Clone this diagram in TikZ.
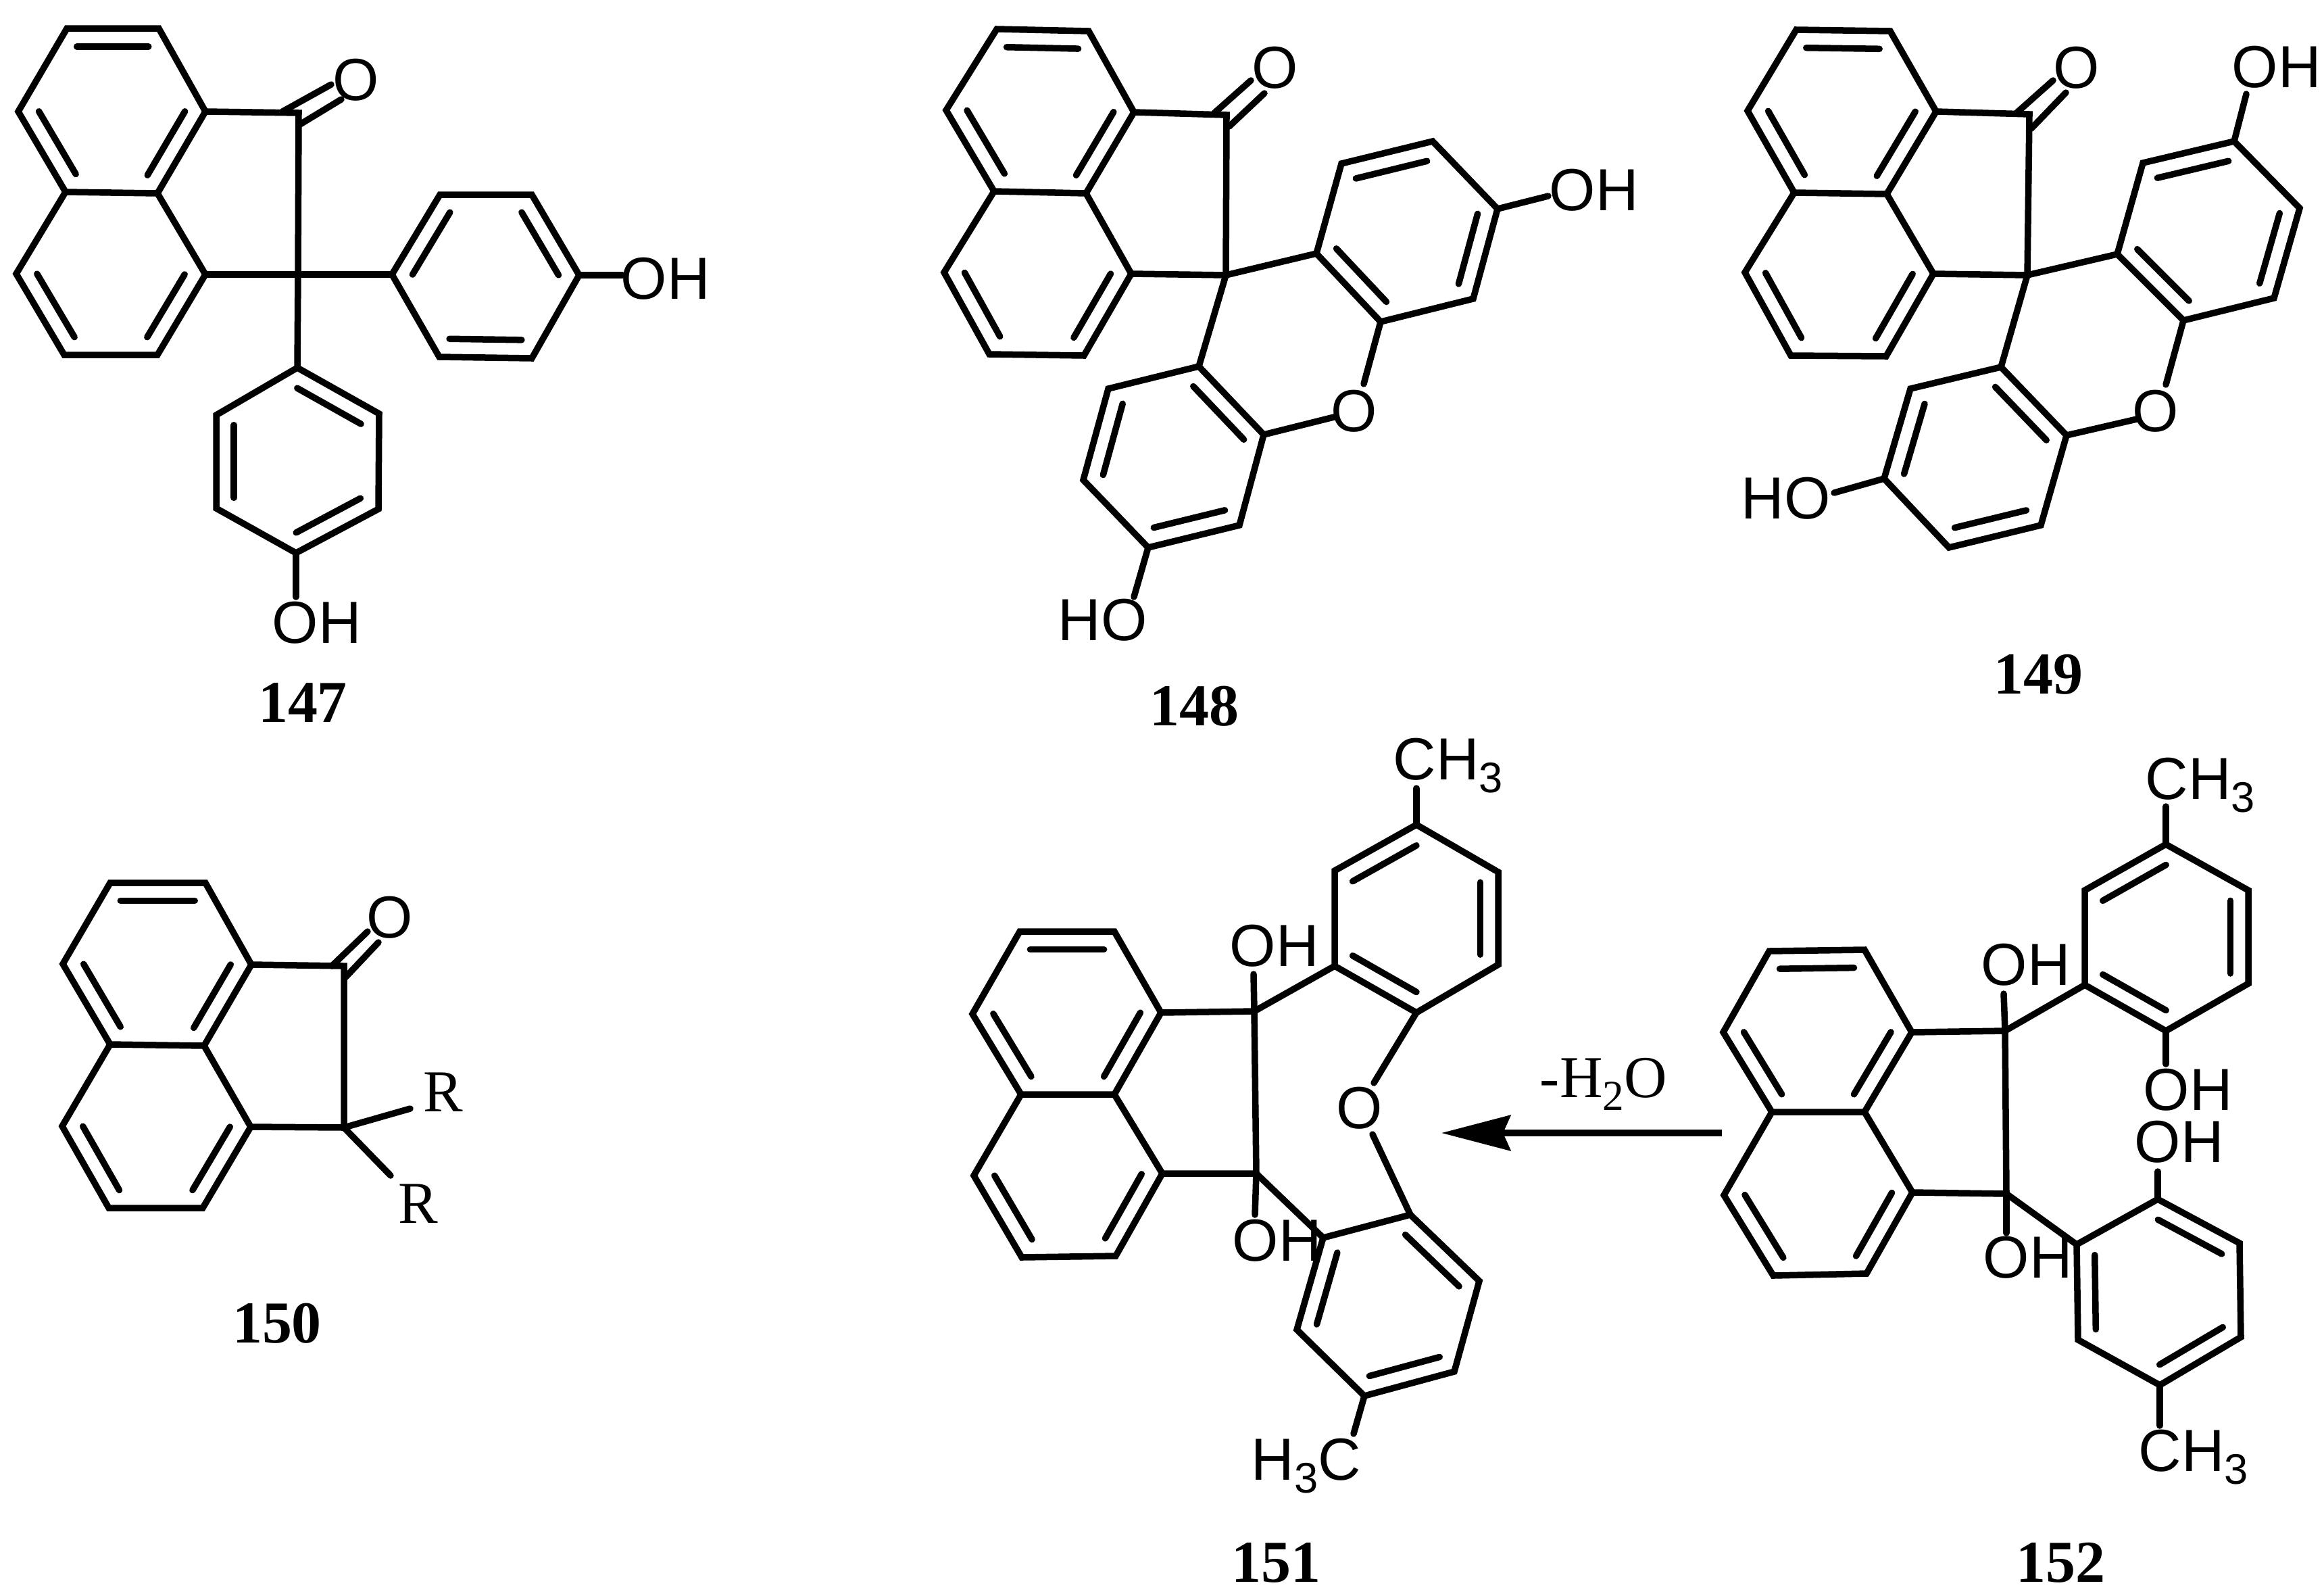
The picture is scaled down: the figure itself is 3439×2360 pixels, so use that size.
\documentclass[tikz,border=0pt]{standalone}
\usepackage{fontspec}
\setmainfont{Liberation Serif}
\newfontfamily\atomfont{Liberation Sans}
\usetikzlibrary{calc,arrows.meta}

\tikzset{
    bond/.style={line width=0.095cm, line cap=round, black},
    atomlab/.style={inner sep=0pt, anchor=base west, font=\atomfont\fontsize{25}{28}\selectfont},
    oxlab/.style={inner sep=0pt, font=\atomfont\fontsize{25}{28}\selectfont},
    rlab/.style={inner sep=0pt, font=\fontsize{25}{28}\selectfont},
    numlab/.style={inner sep=0pt, font=\bfseries\fontsize{25}{28}\selectfont},
    condlab/.style={inner sep=0pt, anchor=base west, font=\fontsize{25}{28}\selectfont}
}

\newcommand{\subnum}[1]{\raisebox{-0.22em}{\fontsize{18}{18}\selectfont #1}}
\newcommand{\atoms}[2]{\foreach \n/\x/\y in {#2} \coordinate (#1\n) at (\x,\y);}
\newcommand{\dbl}[3]{\draw[bond] ($(#1)!.22!(#3)$) -- ($(#2)!.22!(#3)$);}
\newcommand{\naphcore}[1]{
    \coordinate (#1cu) at ($(#1a1)!.5!(#1a4)$);
    \coordinate (#1cl) at ($(#1a4)!.5!(#1a9)$);
    \draw[bond] (#1a1) -- (#1a2) -- (#1a3) -- (#1a4) -- (#1a5) -- (#1a6) -- cycle;
    \draw[bond] (#1a4) -- (#1a7) -- (#1a8) -- (#1a9) -- (#1a10) -- (#1a5);
    \dbl{#1a1}{#1a2}{#1cu}
    \dbl{#1a3}{#1a4}{#1cu}
    \dbl{#1a5}{#1a6}{#1cu}
    \dbl{#1a7}{#1a8}{#1cl}
    \dbl{#1a9}{#1a10}{#1cl}
}
\newcommand{\arene}[1]{
    \coordinate (#1c) at ($(#11)!.5!(#14)$);
    \draw[bond] (#11) -- (#12) -- (#13) -- (#14) -- (#15) -- (#16) -- cycle;
    \dbl{#11}{#12}{#1c}
    \dbl{#13}{#14}{#1c}
    \dbl{#15}{#16}{#1c}
}

\begin{document}
\begin{tikzpicture}[x=0.01cm, y=-0.01cm]
    \useasboundingbox (0,0) rectangle (3439,2360);

    \atoms{m147}{a1/99/42, a2/235/42, a3/304/165, a4/233/286, a5/97/284, a6/27/165,
        a7/304/406, a8/233/525, a9/95/525, a10/24/405,
        k/442/167, s/441/406, ka/418/165, kb/490/125, kc/444/184, kd/505/147,
        e1/921/407, e2/438/883}
    \atoms{m147b}{1/580/406, 2/651/288, 3/787/288, 4/857/407, 5/787/530, 6/650/528}
    \atoms{m147c}{1/440/544, 2/561/612, 3/560/753, 4/438/818, 5/320/752, 6/320/614}
    \naphcore{m147}
    \arene{m147b}
    \arene{m147c}
    \draw[bond] (m147a3) -- (m147k) -- (m147s) -- (m147c1);
    \draw[bond] (m147a7) -- (m147s) -- (m147b1);
    \draw[bond] (m147ka) -- (m147kb);
    \draw[bond] (m147kc) -- (m147kd);
    \draw[bond] (m147b4) -- (m147e1);
    \draw[bond] (m147c4) -- (m147e2);
    \node[oxlab] (m147o) at (527,118) {O};
    \node[atomlab] (m147oh1) at (918,442) {OH};
    \node[atomlab] (m147oh2) at (402,951) {OH};
    \node[numlab] (m147n) at (448,1039) {147};

    \atoms{m148}{a1/1475/43, a2/1611/46, a3/1678/166, a4/1607/286, a5/1471/283, a6/1400/163,
        a7/1674/405, a8/1604/526, a9/1464/524, a10/1397/403,
        k/1815/170, s/1814/407, ka/1797/167, kb/1851/119, kc/1819/187, kd/1871/138,
        e1/2291/290, e2/1678/883, e3/2018/568, e4/1974/617}
    \atoms{m148b}{1/1948/375, 2/2043/476, 3/2180/442, 4/2216/309, 5/2120/209, 6/1985/242}
    \atoms{m148c}{1/1774/542, 2/1870/643, 3/1834/777, 4/1699/810, 5/1603/710, 6/1640/575}
    \naphcore{m148}
    \arene{m148b}
    \arene{m148c}
    \draw[bond] (m148a3) -- (m148k) -- (m148s) -- (m148c1);
    \draw[bond] (m148a7) -- (m148s) -- (m148b1);
    \draw[bond] (m148ka) -- (m148kb);
    \draw[bond] (m148kc) -- (m148kd);
    \draw[bond] (m148b4) -- (m148e1);
    \draw[bond] (m148c4) -- (m148e2);
    \draw[bond] (m148b2) -- (m148e3);
    \draw[bond] (m148c2) -- (m148e4);
    \node[oxlab] (m148o) at (1887,100) {O};
    \node[oxlab] (m148x) at (2004,608) {O};
    \node[atomlab] (m148oh1) at (2292,311) {OH};
    \node[atomlab] (m148oh2) at (1565,947) {HO};
    \node[numlab] (m148n) at (1767,1045) {148};

    \atoms{m149}{a1/2658/44, a2/2797/46, a3/2865/165, a4/2792/287, a5/2655/285, a6/2586/164,
        a7/2861/405, a8/2791/527, a9/2650/526, a10/2582/403,
        k/3003/169, s/3000/407, ka/2984/167, kb/3038/119, kc/3006/190, kd/3057/137,
        e1/3324/139, e2/2714/729, e3/3205/569, e4/3162/620}
    \atoms{m149b}{1/3133/376, 2/3231/474, 3/3365/441, 4/3403/308, 5/3306/209, 6/3171/241}
    \atoms{m149c}{1/2961/543, 2/3058/644, 3/3020/777, 4/2884/810, 5/2788/708, 6/2827/575}
    \naphcore{m149}
    \arene{m149b}
    \arene{m149c}
    \draw[bond] (m149a3) -- (m149k) -- (m149s) -- (m149c1);
    \draw[bond] (m149a7) -- (m149s) -- (m149b1);
    \draw[bond] (m149ka) -- (m149kb);
    \draw[bond] (m149kc) -- (m149kd);
    \draw[bond] (m149b5) -- (m149e1);
    \draw[bond] (m149c5) -- (m149e2);
    \draw[bond] (m149b2) -- (m149e3);
    \draw[bond] (m149c2) -- (m149e4);
    \node[oxlab] (m149o) at (3073,100) {O};
    \node[oxlab] (m149x) at (3190,608) {O};
    \node[atomlab] (m149oh1) at (3302,129) {OH};
    \node[atomlab] (m149oh2) at (2576,767) {HO};
    \node[numlab] (m149n) at (3016,998) {149};

    \atoms{m150}{a1/163/1306, a2/304/1306, a3/372/1427, a4/302/1547, a5/163/1545, a6/93/1426,
        a7/371/1667, a8/300/1787, a9/161/1787, a10/92/1666,
        k/509/1429, s/509/1668, ka/491/1429, kb/544/1378, kc/511/1446, kd/560/1394,
        e1/607/1640, e2/578/1739}
    \naphcore{m150}
    \draw[bond] (m150a3) -- (m150k) -- (m150s) -- (m150a7);
    \draw[bond] (m150ka) -- (m150kb);
    \draw[bond] (m150kc) -- (m150kd);
    \draw[bond] (m150s) -- (m150e1);
    \draw[bond] (m150s) -- (m150e2);
    \node[oxlab] (m150o) at (577,1357) {O};
    \node[rlab] (m150r1) at (656,1616) {R};
    \node[rlab] (m150r2) at (619,1781) {R};
    \node[numlab] (m150n) at (410,1958) {150};

    \atoms{m151}{a1/1509/1378, a2/1649/1378, a3/1718/1498, a4/1649/1619, a5/1511/1619, a6/1439/1500,
        a7/1720/1736, a8/1651/1858, a9/1512/1860, a10/1441/1739,
        k/1856/1496, s/1859/1736, e1/1855/1441, e2/1857/1797,
        e3/2096/1166, e4/2033/1602, e5/2031/1678, e6/2003/2121}
    \atoms{m151b}{1/1975/1429, 2/2096/1498, 3/2217/1427, 4/2217/1290, 5/2096/1220, 6/1975/1288}
    \atoms{m151d}{1/2087/1797, 2/2189/1895, 3/2152/2029, 4/2019/2065, 5/1919/1967, 6/1958/1831}
    \naphcore{m151}
    \arene{m151b}
    \arene{m151d}
    \draw[bond] (m151a3) -- (m151k) -- (m151s) -- (m151a7);
    \draw[bond] (m151k) -- (m151e1);
    \draw[bond] (m151s) -- (m151e2);
    \draw[bond] (m151k) -- (m151b1);
    \draw[bond] (m151s) -- (m151d6);
    \draw[bond] (m151b5) -- (m151e3);
    \draw[bond] (m151b2) -- (m151e4);
    \draw[bond] (m151d1) -- (m151e5);
    \draw[bond] (m151d4) -- (m151e6);
    \node[atomlab] (m151oh1) at (1819,1429) {OH};
    \node[atomlab] (m151oh2) at (1823,1865) {OH};
    \node[oxlab] (m151x) at (2012,1639) {O};
    \node[atomlab] (m151me1) at (2061,1153) {CH\subnum{3}};
    \node[atomlab] (m151me2) at (1851,2189) {H\subnum{3}C};
    \node[numlab] (m151n) at (1888,2312) {151};

    \atoms{m152}{a1/2618/1407, a2/2759/1405, a3/2829/1527, a4/2759/1645, a5/2622/1645, a6/2550/1527,
        a7/2830/1764, a8/2762/1884, a9/2624/1887, a10/2551/1768,
        k/2967/1525, s/2969/1766, e1/2965/1470, e2/2969/1824,
        e3/3205/1193, e4/3205/1574, e5/3193/1733, e6/3196/2109}
    \atoms{m152b}{1/3085/1457, 2/3205/1525, 3/3327/1455, 4/3327/1317, 5/3205/1249, 6/3085/1317}
    \atoms{m152d}{1/3193/1774, 2/3314/1839, 3/3316/1978, 4/3196/2049, 5/3075/1982, 6/3073/1841}
    \naphcore{m152}
    \arene{m152b}
    \arene{m152d}
    \draw[bond] (m152a3) -- (m152k) -- (m152s) -- (m152a7);
    \draw[bond] (m152k) -- (m152e1);
    \draw[bond] (m152s) -- (m152e2);
    \draw[bond] (m152k) -- (m152b1);
    \draw[bond] (m152s) -- (m152d6);
    \draw[bond] (m152b5) -- (m152e3);
    \draw[bond] (m152b2) -- (m152e4);
    \draw[bond] (m152d1) -- (m152e5);
    \draw[bond] (m152d4) -- (m152e6);
    \node[atomlab] (m152oh1) at (2931,1457) {OH};
    \node[atomlab] (m152oh2) at (2934,1890) {OH};
    \node[atomlab] (m152oh3) at (3171,1642) {OH};
    \node[atomlab] (m152oh4) at (3158,1719) {OH};
    \node[atomlab] (m152me1) at (3174,1182) {CH\subnum{3}};
    \node[atomlab] (m152me2) at (3164,2176) {CH\subnum{3}};
    \node[numlab] (m152n) at (3049,2312) {152};

    \coordinate (arrstart) at (2548,1676);
    \coordinate (arrend) at (2133,1676);
    \draw[bond, line cap=butt, -{Stealth[length=1.02cm, width=0.52cm, inset=0.11cm]}] (arrstart) -- (arrend);
    \node[condlab] (cond) at (2278,1623) {-H\subnum{2}O};
\end{tikzpicture}
\end{document}
